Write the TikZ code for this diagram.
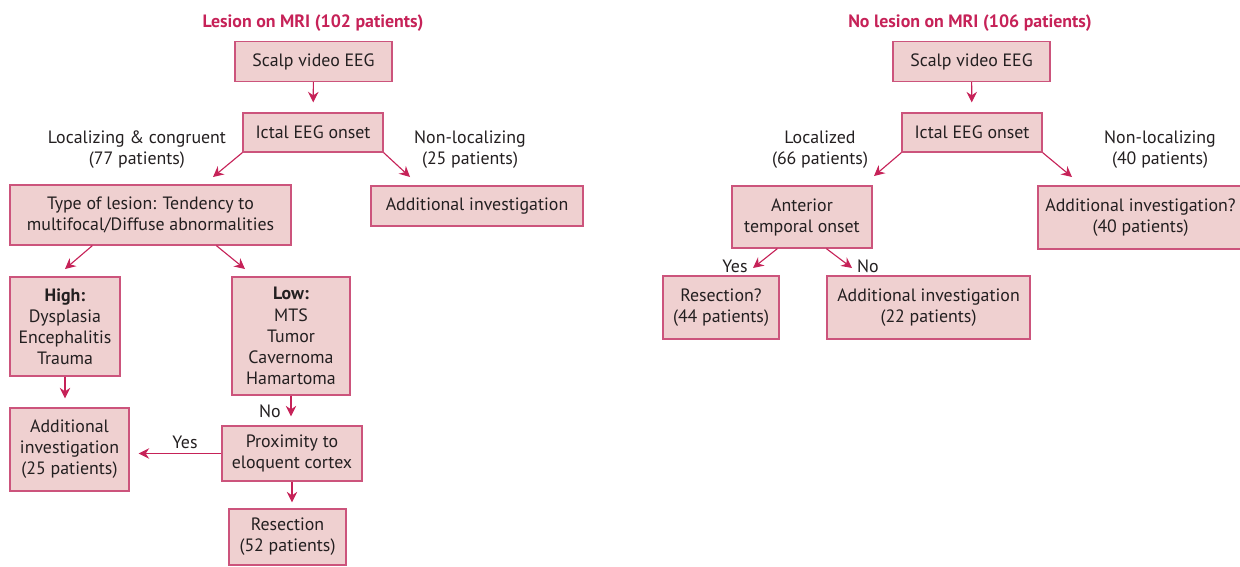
\documentclass[tikz,border=0pt]{standalone}
\usepackage{fontspec}
\setmainfont{PT Sans}
\usetikzlibrary{arrows.meta,calc}

\definecolor{boxfill}{RGB}{239,208,208}
\definecolor{boxline}{RGB}{204,84,124}
\definecolor{arrowred}{RGB}{198,34,88}
\definecolor{textgray}{RGB}{35,31,32}

\tikzset{
  txt/.style={font=\fontsize{12.7}{15}\selectfont, text=textgray},
  box/.style={txt, draw=boxline, line width=0.9pt, fill=boxfill, align=center, inner sep=0pt},
  wh/.style 2 args={minimum width=#1*0.025cm, minimum height=#2*0.025cm},
  lbl/.style={txt, align=center},
  ttl/.style={font=\fontsize{12.7}{15}\selectfont\bfseries, text=arrowred},
  arr/.style={draw=arrowred, line width=0.8pt, -{Stealth[length=7.5pt,width=7.5pt,inset=2.5pt]}}
}

\begin{document}
\begin{tikzpicture}[x=0.025cm,y=-0.025cm]
\useasboundingbox (0,0) rectangle (1240,566);

% lesion on MRI
\node [ttl] (titleL) at (313,23) {Lesion on MRI (102 patients)};
\node [box,wh={157}{40}] (scalpL) at (313.5,61.5) {Scalp video EEG};
\node [box,wh={140}{39}] (ictalL) at (313,132.5) {Ictal EEG onset};
\node [lbl] (locL) at (137,150) {Localizing \& congruent\\(77 patients)};
\node [lbl] (nonlocL) at (470,150) {Non-localizing\\(25 patients)};
\node [box,wh={212}{40}] (addL) at (477,206) {Additional investigation};
\node [box,wh={281}{60}] (typeL) at (150.5,215) {Type of lesion: Tendency to\\multifocal/Diffuse abnormalities};
\node [box,wh={110}{99}] (highL) at (65,326.5) {\textbf{High:}\\Dysplasia\\Encephalitis\\Trauma};
\node [box,wh={118}{118}] (lowL) at (291,336) {\textbf{Low:}\\MTS\\Tumor\\Cavernoma\\Hamartoma};
\node [box,wh={119}{83}] (addlow) at (69.5,449.5) {Additional\\investigation\\(25 patients)};
\node [box,wh={140}{55}] (proxL) at (292,453.5) {Proximity to\\eloquent cortex};
\node [box,wh={117}{56}] (resL) at (287.5,537) {Resection\\(52 patients)};
\node [lbl] (noL) at (270,411) {No};
\node [lbl] (yesL) at (185,442) {Yes};

\coordinate (tipLoc) at (213,177);
\coordinate (tipNon) at (410,177);
\coordinate (tipHigh) at (65,269);
\coordinate (tipLow) at (245,269);

\draw [arr,shorten >=10*0.025cm] (scalpL) -- (ictalL);
\draw [arr] (ictalL.south west) -- (tipLoc);
\draw [arr] (ictalL.south east) -- (tipNon);
\draw [arr] ($(typeL.south west)+(83,0)$) -- (tipHigh);
\draw [arr] ($(typeL.south west)+(207,0)$) -- (tipLow);
\draw [arr,shorten >=9*0.025cm] (highL.south) -- (highL.south |- addlow.north);
\draw [arr,shorten >=9*0.025cm] (lowL.south) -- (lowL.south |- proxL.north);
\draw [arr,shorten >=9*0.025cm] (proxL.west) -- (proxL.west -| addlow.east);
\draw [arr,shorten >=6*0.025cm] (proxL.south) -- (proxL.south |- resL.north);

% no lesion on MRI
\node [ttl] (titleR) at (970,23) {No lesion on MRI (106 patients)};
\node [box,wh={157}{40}] (scalpR) at (971.5,61.5) {Scalp video EEG};
\node [box,wh={140}{39}] (ictalR) at (972,132.5) {Ictal EEG onset};
\node [lbl] (locR) at (820,150) {Localized\\(66 patients)};
\node [lbl] (nonlocR) at (1160,150) {Non-localizing\\(40 patients)};
\node [box,wh={140}{62}] (antR) at (802,217) {Anterior\\temporal onset};
\node [box,wh={205}{63}] (addR) at (1140.5,217.5) {Additional investigation?\\(40 patients)};
\node [lbl] (yesR) at (735,266) {Yes};
\node [lbl] (noR) at (868,266) {No};
\node [box,wh={116}{63}] (resR) at (721,307.5) {Resection?\\(44 patients)};
\node [box,wh={203}{63}] (addtwoR) at (928.5,307.5) {Additional investigation\\(22 patients)};

\coordinate (tipLocR) at (874,176);
\coordinate (tipNonR) at (1072,177);
\coordinate (tipYesR) at (753,268);
\coordinate (tipNoR) at (852,268);

\draw [arr,shorten >=10*0.025cm] (scalpR) -- (ictalR);
\draw [arr] (ictalR.south west) -- (tipLocR);
\draw [arr] (ictalR.south east) -- (tipNonR);
\draw [arr] ($(antR.south west)+(46,0)$) -- (tipYesR);
\draw [arr] ($(antR.south west)+(95,0)$) -- (tipNoR);
\end{tikzpicture}
\end{document}
